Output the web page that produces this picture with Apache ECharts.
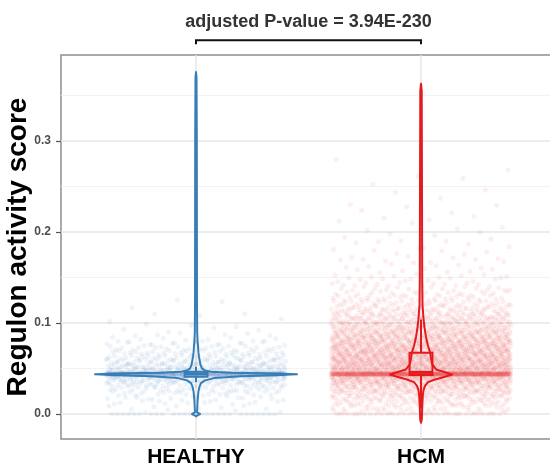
<!DOCTYPE html>
<html>
<head>
<meta charset="utf-8">
<script src="https://cdn.jsdelivr.net/npm/echarts@6/dist/echarts.min.js"></script>
<style>
  html, body { margin: 0; padding: 0; background: #ffffff; }
  #chart { width: 550px; height: 468px; }
</style>
</head>
<body>
<div id="chart"></div>
<script>
// ---------------- data ----------------
const groups = ['HEALTHY', 'HCM'];
const yTicks = [0, 0.1, 0.2, 0.3];
const yMinorBreaks = [0.05, 0.15, 0.25, 0.35];
const pValueLabel = 'adjusted P-value = 3.94E-230';

// Cells per 0.005-wide score bin, first bin starting at 0
const binWidth = 0.005;
const healthyBinCounts = [6, 8, 12, 16, 22, 30, 45, 70, 110, 90, 60, 45, 38, 30, 24, 16, 10, 6, 4, 3, 2, 2, 1, 1, 1, 1];
const hcmBinCounts = [22, 30, 40, 52, 65, 80, 100, 130, 180, 170, 160, 150, 145, 138, 130, 122, 112, 100, 88, 78, 68, 57, 48, 40,
  32, 26, 21, 17, 14, 11, 8, 7, 6, 6, 5, 5, 4, 4, 3, 3, 2, 2, 2, 2, 2, 2, 1, 1, 1, 1, 1, 1, 1, 1, 0, 1];
// Cells scoring exactly 0, and the crowd sharing one identical score
const zeroCounts = [25, 30];
const bandScores = [0.044, 0.044];
const bandCounts = [250, 350];

// Violin outlines: score and half-width (in category units)
const healthyViolinScore = [-0.0022, 0, 0.0022, 0.005, 0.01, 0.015, 0.02, 0.025, 0.03, 0.034, 0.037, 0.0395, 0.0415,
  0.0428, 0.0437, 0.0446, 0.0455, 0.0465, 0.048, 0.05, 0.054, 0.058, 0.063, 0.068, 0.075, 0.08, 0.09, 0.12, 0.2, 0.3, 0.37, 0.3757];
const healthyViolinWidth = [0, 0.018, 0.0044, 0.0053, 0.0062, 0.0071, 0.0089, 0.011, 0.0156, 0.022, 0.04, 0.08, 0.2,
  0.378, 0.449, 0.356, 0.156, 0.067, 0.04, 0.027, 0.02, 0.017, 0.0133, 0.0107, 0.0089, 0.0071, 0.0053, 0.0044, 0.004, 0.0036, 0.0022, 0];
const hcmViolinScore = [-0.0095, -0.006, 0, 0.01, 0.02, 0.026, 0.031, 0.035, 0.038, 0.041, 0.0435, 0.046, 0.049, 0.055,
  0.062, 0.068, 0.075, 0.085, 0.095, 0.105, 0.12, 0.15, 0.25, 0.355, 0.3629];
const hcmViolinWidth = [0, 0.0036, 0.0044, 0.0058, 0.008, 0.011, 0.0178, 0.031, 0.062, 0.107, 0.138, 0.107, 0.067, 0.049,
  0.044, 0.04, 0.031, 0.022, 0.0156, 0.011, 0.0067, 0.0053, 0.0044, 0.0031, 0];

// Box statistics: lower whisker, Q1, median, Q3, upper whisker
const healthyBox = [0.035, 0.041, 0.0442, 0.0465, 0.052];
const hcmBox = [0.006, 0.0428, 0.0458, 0.0673, 0.104];

// ---------------- styling ----------------
const colors = ['#377EB8', '#E41A1C'];
const pointColors = ['rgba(55,126,184,0.10)', 'rgba(228,26,28,0.09)'];
const font = '"Liberation Sans", Arial, Helvetica, sans-serif';
const jitterHalf = 0.4;
const boxHalf = 0.051;
const bracketLow = 0.4061, bracketHigh = 0.4105, labelScore = 0.4303;

// Deterministic low-discrepancy sequence used to spread cells inside their bin
function halton(i, base) {
  let f = 1, r = 0;
  while (i > 0) { f /= base; r += f * (i % base); i = Math.floor(i / base); }
  return r;
}

function cellPoints(g, binCounts) {
  const pts = [];
  let n = 1;
  const center = g + 1;
  const jx = () => center + (halton(n, 2) * 2 - 1) * jitterHalf;
  for (let k = 0; k < zeroCounts[g]; k++, n++) pts.push([jx(), 0]);
  binCounts.forEach((c, i) => {
    for (let k = 0; k < c; k++, n++) pts.push([jx(), i * binWidth + halton(n, 3) * binWidth]);
  });
  for (let k = 0; k < bandCounts[g]; k++, n++) pts.push([jx(), bandScores[g] + (halton(n, 3) - 0.5) * 0.0012]);
  return pts;
}

// Background grid: [position, orientation (0 = horizontal, 1 = vertical), major flag]
const gridLines = yTicks.map(v => [v, 0, 1])
  .concat(yMinorBreaks.map(v => [v, 0, 0]))
  .concat(groups.map((g, i) => [i + 1, 1, 1]));

const violins = [
  { score: healthyViolinScore, width: healthyViolinWidth },
  { score: hcmViolinScore, width: hcmViolinWidth }
];
const boxes = [healthyBox, hcmBox];

const chart = echarts.init(document.getElementById('chart'), null, { renderer: 'canvas' });

chart.setOption({
  animation: false,
  backgroundColor: '#ffffff',
  grid: {
    left: 61, top: 55, width: 495, height: 384,
    containLabel: false, outerBoundsMode: 'none',
    show: true, borderColor: '#8e8e8e', borderWidth: 1.5, backgroundColor: 'transparent'
  },
  xAxis: {
    type: 'value', min: 0.4, max: 2.6,
    axisLine: { show: false },
    splitLine: { show: false },
    axisTick: { show: true, customValues: [1, 2], length: 4, lineStyle: { color: '#555', width: 1.2 } },
    axisLabel: {
      customValues: [1, 2],
      formatter: v => groups[Math.round(v) - 1],
      color: '#000', fontFamily: font, fontWeight: 'bold', fontSize: 21, margin: 8
    }
  },
  yAxis: {
    type: 'value', min: -0.0274, max: 0.3944,
    axisLine: { show: false },
    splitLine: { show: false },
    axisTick: { show: true, customValues: yTicks, length: 5, lineStyle: { color: '#555', width: 1.2 } },
    axisLabel: {
      customValues: yTicks,
      formatter: v => v.toFixed(1),
      color: '#4d4d4d', fontFamily: font, fontWeight: 'bold', fontSize: 12, margin: 10
    },
    name: 'Regulon activity score',
    nameLocation: 'middle',
    nameGap: 29,
    nameMoveOverlap: false,
    nameTextStyle: { color: '#000', fontFamily: font, fontWeight: 'bold', fontSize: 28 }
  },
  series: [
    {
      type: 'custom', z: 1, silent: true,
      data: gridLines,
      renderItem(params, api) {
        const cs = params.coordSys;
        const line = gridLines[params.dataIndex];
        const major = line[2] === 1;
        const style = { stroke: major ? '#e6e6e6' : '#f0f0f0', lineWidth: major ? 1.4 : 0.9 };
        if (line[1] === 0) {
          const y = api.coord([1, line[0]])[1];
          return { type: 'line', shape: { x1: cs.x, y1: y, x2: cs.x + cs.width, y2: y }, style };
        }
        const x = api.coord([line[0], 0])[0];
        return { type: 'line', shape: { x1: x, y1: cs.y, x2: x, y2: cs.y + cs.height }, style };
      }
    },
    {
      type: 'scatter', z: 2, silent: true,
      data: cellPoints(0, healthyBinCounts),
      symbolSize: 5,
      itemStyle: { color: pointColors[0] }
    },
    {
      type: 'scatter', z: 2, silent: true,
      data: cellPoints(1, hcmBinCounts),
      symbolSize: 5,
      itemStyle: { color: pointColors[1] }
    },
    {
      type: 'custom', z: 3, silent: true,
      data: [0, 1],
      renderItem(params, api) {
        const g = params.dataIndex;
        const v = violins[g];
        const c = g + 1;
        const right = v.score.map((s, i) => api.coord([c + v.width[i], s]));
        const left = v.score.map((s, i) => api.coord([c - v.width[i], s])).reverse();
        return {
          type: 'polygon',
          shape: { points: right.concat(left) },
          style: { fill: 'none', stroke: colors[g], lineWidth: 2, lineJoin: 'round' }
        };
      }
    },
    {
      type: 'custom', z: 4, silent: true,
      data: [0, 1],
      renderItem(params, api) {
        const g = params.dataIndex;
        const b = boxes[g];
        const c = g + 1;
        const tl = api.coord([c - boxHalf, b[3]]);
        const br = api.coord([c + boxHalf, b[1]]);
        const ml = api.coord([c - boxHalf, b[2]]);
        const mr = api.coord([c + boxHalf, b[2]]);
        const lo = api.coord([c, b[0]]);
        const q1 = api.coord([c, b[1]]);
        const q3 = api.coord([c, b[3]]);
        const hi = api.coord([c, b[4]]);
        const st = { stroke: colors[g], lineWidth: 2, fill: 'none' };
        return {
          type: 'group',
          children: [
            { type: 'line', shape: { x1: lo[0], y1: lo[1], x2: q1[0], y2: q1[1] }, style: st },
            { type: 'line', shape: { x1: q3[0], y1: q3[1], x2: hi[0], y2: hi[1] }, style: st },
            { type: 'rect', shape: { x: tl[0], y: tl[1], width: br[0] - tl[0], height: br[1] - tl[1] }, style: st },
            { type: 'line', shape: { x1: ml[0], y1: ml[1], x2: mr[0], y2: mr[1] }, style: { stroke: colors[g], lineWidth: 3 } }
          ]
        };
      }
    },
    {
      type: 'custom', z: 5, silent: true, clip: false,
      data: [[1, 2]],
      renderItem(params, api) {
        const a1 = api.coord([api.value(0), bracketLow]);
        const a2 = api.coord([api.value(0), bracketHigh]);
        const b2 = api.coord([api.value(1), bracketHigh]);
        const b1 = api.coord([api.value(1), bracketLow]);
        const mid = api.coord([(api.value(0) + api.value(1)) / 2, labelScore]);
        return {
          type: 'group',
          children: [
            { type: 'polyline', shape: { points: [a1, a2, b2, b1] }, style: { stroke: '#111', lineWidth: 2, fill: 'none' } },
            { type: 'text', x: mid[0], y: mid[1],
              style: { text: pValueLabel, align: 'center', verticalAlign: 'middle',
                fill: '#333', font: 'bold 18px ' + font } }
          ]
        };
      }
    }
  ]
});
</script>
</body>
</html>
